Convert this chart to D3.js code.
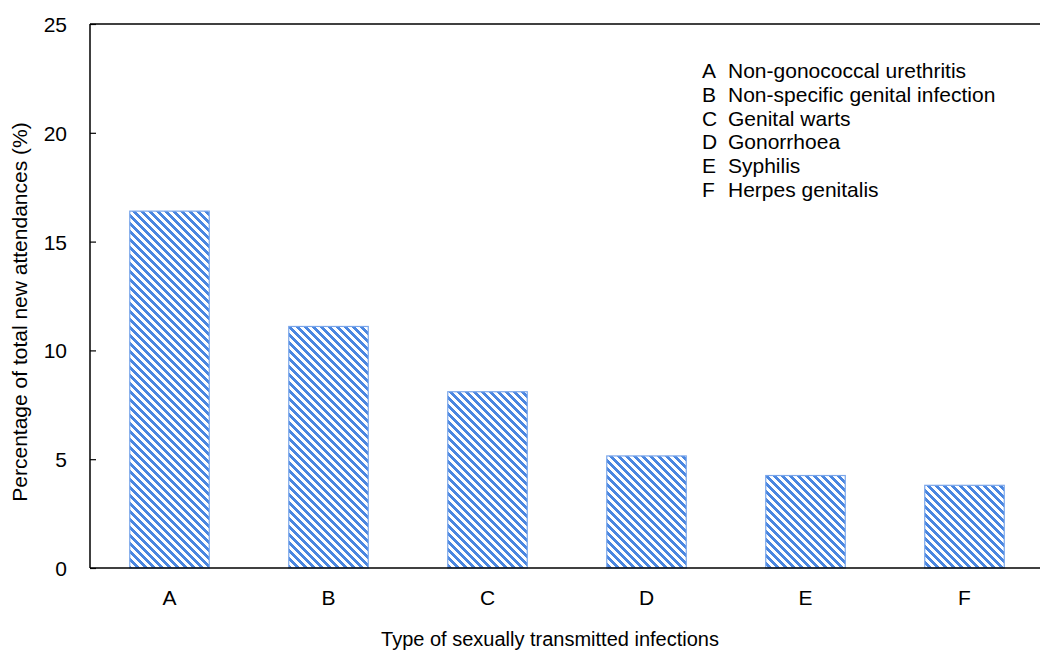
<!DOCTYPE html>
<html><head><meta charset="utf-8">
<script src="https://cdn.jsdelivr.net/npm/d3@7"></script>
<style>body{margin:0;background:#fff}svg{display:block;font-family:"Liberation Sans",Arial,sans-serif}</style>
</head><body><svg id="c" width="1040" height="664"></svg>
<script>
(function(){
const categories = ["A","B","C","D","E","F"];
const values = [16.4, 11.1, 8.1, 5.15, 4.25, 3.8];
const yTicks = [0,5,10,15,20,25];
const legendCodes = ["A","B","C","D","E","F"];
const legendNames = ["Non-gonococcal urethritis","Non-specific genital infection","Genital warts","Gonorrhoea","Syphilis","Herpes genitalis"];

const svg = d3.select("#c");
const mLeft = 90, mTop = 24, mBottom = 568, mRight = 1044;
const x = d3.scaleBand().domain(categories).range([mLeft, mRight]).paddingInner(0.5).paddingOuter(0.25);
const y = d3.scaleLinear().domain([0,25]).range([mBottom, mTop]);

const defs = svg.append("defs");
const pat = defs.append("pattern").attr("id","stripes").attr("patternUnits","userSpaceOnUse")
  .attr("width",8).attr("height",8);
pat.append("rect").attr("width",8).attr("height",8).attr("fill","#fff");
pat.append("path").attr("d","M0,0 L4,0 L8,4 L8,8 Z M0,4 L4,8 L0,8 Z").attr("fill","#4a86e0").attr("shape-rendering","crispEdges");

svg.selectAll("rect.bar").data(values).enter().append("rect").attr("class","bar")
  .attr("x",(d,i)=>x(categories[i])).attr("width",x.bandwidth())
  .attr("y",d=>y(d)).attr("height",d=>mBottom-y(d))
  .attr("fill","url(#stripes)").attr("stroke","#7aa6ea").attr("stroke-width",1.2);

svg.append("line").attr("x1",mLeft).attr("x2",1040).attr("y1",mTop).attr("y2",mTop).attr("stroke","#000").attr("stroke-width",1.5);
svg.append("line").attr("x1",mLeft).attr("x2",1040).attr("y1",mBottom).attr("y2",mBottom).attr("stroke","#000").attr("stroke-width",1.5);

const FS = 21;
const yAxis = d3.axisRight(y).tickValues(yTicks).tickSize(6).tickFormat(d3.format("d"));
const gy = svg.append("g").attr("transform",`translate(${mLeft},0)`).call(yAxis);
gy.select(".domain").attr("stroke-width",1.5).attr("d",`M0,${mTop}V${mBottom}`);
gy.selectAll(".tick line").attr("stroke-width",1.2);
gy.selectAll(".tick text").attr("x",-23).attr("dy","0.36em").attr("text-anchor","end").attr("font-size",FS).attr("font-family","Liberation Sans, Arial, sans-serif").attr("fill","#000");

const xAxis = d3.axisBottom(x).tickSize(0);
const gx = svg.append("g").attr("transform",`translate(0,${mBottom})`).call(xAxis);
gx.select(".domain").remove();
gx.selectAll(".tick text").attr("dy",0).attr("y",37).attr("font-size",FS).attr("font-family","Liberation Sans, Arial, sans-serif").attr("fill","#000");

svg.append("text").attr("x",550).attr("y",646).attr("text-anchor","middle").attr("font-size",20).text("Type of sexually transmitted infections");
svg.append("text").attr("transform","translate(27,312) rotate(-90)").attr("text-anchor","middle").attr("font-size",21).text("Percentage of total new attendances (%)");

const lg = svg.append("g");
legendCodes.forEach((c,i)=>{
  const yy = 78 + i*23.8;
  lg.append("text").attr("x",702).attr("y",yy).attr("font-size",FS).text(c);
  lg.append("text").attr("x",728).attr("y",yy).attr("font-size",FS).text(legendNames[i]);
});
})();
</script></body></html>
